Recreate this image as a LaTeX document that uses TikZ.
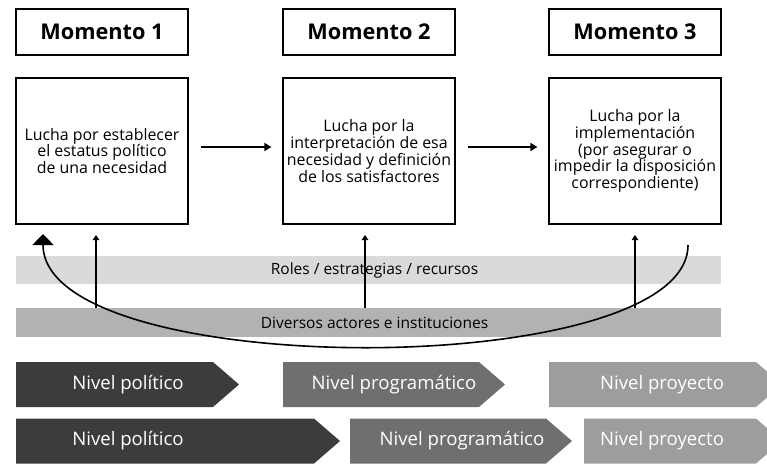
\documentclass[tikz,border=0pt]{standalone}
\usepackage{fontspec}
\setmainfont{Open Sans}
\usetikzlibrary{arrows.meta}

\definecolor{bandlight}{HTML}{DADADA}
\definecolor{banddark}{HTML}{B2B2B2}
\definecolor{levdark}{HTML}{3C3C3B}
\definecolor{levmid}{HTML}{6F6F6E}
\definecolor{levlight}{HTML}{9D9D9C}

\tikzset{
  titlebox/.style={draw,line width=1.2pt,minimum width=172pt,minimum height=46pt,
    inner sep=0pt,font=\bfseries\fontsize{21.7}{24}\selectfont},
  momentbox/.style={draw,line width=1.2pt,minimum width=172pt,minimum height=146pt,
    inner sep=0pt,align=center,font=\fontsize{15.9}{16.8}\selectfont},
  band/.style={minimum width=705pt,minimum height=28.5pt,inner sep=0pt},
  bandtext/.style={font=\fontsize{15.5}{17}\selectfont},
  leveltext/.style={text=white,font=\fontsize{18.6}{20}\selectfont},
  small arrow/.style={-{Triangle[width=6.5pt,length=5pt]},line width=1.8pt},
}

% one chevron: x start, x end of body, y top, colour
\newcommand{\levelarrow}[4]{%
  \fill[#4] (#1,#3) -- (#2,#3) -- ++(26,22.5) -- ++(-26,22.5) -- (#1,#3+45) -- cycle;}

\begin{document}
\begin{tikzpicture}[x=1pt,y=-1pt]
\useasboundingbox (0,0) rectangle (767,464);

% moments
\node[titlebox] (t1) at (102,32) {Momento 1};
\node[titlebox] (t2) at (369,32) {Momento 2};
\node[titlebox] (t3) at (635,32) {Momento 3};

\node[momentbox] (m1) at (102,151) {Lucha por establecer\\el estatus político\\de una necesidad};
\node[momentbox] (m2) at (369,151) {Lucha por la\\interpretación de esa\\necesidad y definición\\de los satisfactores};
\node[momentbox] (m3) at (635,151) {Lucha por la\\implementación\\(por asegurar o\\impedir la disposición\\correspondiente)};

\draw[-{Triangle[width=8pt,length=7pt]},line width=1.8pt] ([shift={(12,-4)}]m1.east) -- ([shift={(-11,-4)}]m2.west);
\draw[-{Triangle[width=8pt,length=7pt]},line width=1.8pt] ([shift={(12,-4)}]m2.east) -- ([shift={(-11,-4)}]m3.west);

% bands
\node[band,fill=bandlight] (roles) at (368.5,270) {};
\node[bandtext] at ([xshift=6]roles) {Roles / estrategias / recursos};
\node[band,fill=banddark] (actors) at (368.5,322.5) {};
\node[bandtext] at ([xshift=6]actors) {Diversos actores e instituciones};

\coordinate (up1) at (96,235);
\coordinate (up2) at (365,235);
\coordinate (up3) at (635,235);
\draw[small arrow] (actors.north -| up1) -- (up1);
\draw[small arrow] (actors.north -| up2) -- (up2);
\draw[small arrow] (actors.north -| up3) -- (up3);

% return loop
\coordinate (loopstart) at (688,245);
\coordinate (loopend) at (43,234);
\draw[-{Triangle[width=21pt,length=11pt]},line width=1.6pt]
  (loopstart) .. controls (688,382) and (43,382) .. (loopend);

% levels
\levelarrow{16}{213}{362}{levdark}
\levelarrow{283}{479}{362}{levmid}
\levelarrow{549}{756}{362}{levlight}
\node[leveltext] (p1) at (128,384.5) {Nivel político};
\node[leveltext] (p2) at (394,384.5) {Nivel programático};
\node[leveltext] (p3) at (662,384.5) {Nivel proyecto};

\levelarrow{16}{314}{418.5}{levdark}
\levelarrow{350}{546}{418.5}{levmid}
\levelarrow{584}{756}{418.5}{levlight}
\node[leveltext] (q1) at (128,441) {Nivel político};
\node[leveltext] (q2) at (462,441) {Nivel programático};
\node[leveltext] (q3) at (662,441) {Nivel proyecto};
\end{tikzpicture}
\end{document}
